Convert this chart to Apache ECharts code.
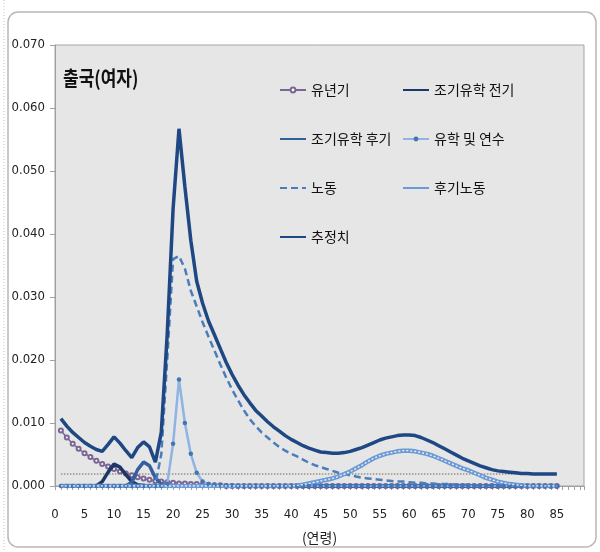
<!DOCTYPE html>
<html><head><meta charset="utf-8">
<script src="https://cdn.jsdelivr.net/npm/echarts@6/dist/echarts.min.js"></script>
<style>html,body{margin:0;padding:0;background:#fff}#c{width:600px;height:552px}</style>
</head><body><div id="c"></div>
<script>
const ages = [1,2,3,4,5,6,7,8,9,10,11,12,13,14,15,16,17,18,19,20,21,22,23,24,25,26,27,28,29,30,31,32,33,34,35,36,37,38,39,40,41,42,43,44,45,46,47,48,49,50,51,52,53,54,55,56,57,58,59,60,61,62,63,64,65,66,67,68,69,70,71,72,73,74,75,76,77,78,79,80,81,82,83,84,85];
const xTickLabels = [0,5,10,15,20,25,30,35,40,45,50,55,60,65,70,75,80,85];
const yTickLabels = ['0.000','0.010','0.020','0.030','0.040','0.050','0.060','0.070'];

const childhood = [0.0088,0.0077,0.0067,0.0059,0.0052,0.0046,0.0040,0.0035,0.0031,0.0027,0.0023,0.0020,0.0017,0.0014,0.0012,0.0010,0.0008,0.0007,0.0006,0.0005,0.0004,0.0004,0.0003,0.0003,0.0002,0.0002,0.0001,0.0001,0,0,0,0,0,0,0,0,0,0,0,0,0,0,0,0,0,0,0,0,0,0,0,0,0,0,0,0,0,0,0,0,0,0,0,0,0,0,0,0,0,0,0,0,0,0,0,0,0,0,0,0,0,0,0,0,0];
const earlyStudy1 = [0,0,0,0,0,0,0,0.0007,0.0022,0.0035,0.0030,0.0018,0.0007,0.0002,0.0001,0,0,0,0,0,0,0,0,0,0,0,0,0,0,0,0,0,0,0,0,0,0,0,0,0,0,0,0,0,0,0,0,0,0,0,0,0,0,0,0,0,0,0,0,0,0,0,0,0,0,0,0,0,0,0,0,0,0,0,0,0,0,0,0,0,0,0,0,0,0];
const earlyStudy2 = [0,0,0,0,0,0,0,0,0,0,0,0,0.0006,0.0026,0.0038,0.0032,0.0013,0.0003,0.0001,0,0,0,0,0,0,0,0,0,0,0,0,0,0,0,0,0,0,0,0,0,0,0,0,0,0,0,0,0,0,0,0,0,0,0,0,0,0,0,0,0,0,0,0,0,0,0,0,0,0,0,0,0,0,0,0,0,0,0,0,0,0,0,0,0,0];
const studyTraining = [0,0,0,0,0,0,0,0,0,0,0,0,0,0,0,0,0,0,0.0003,0.0067,0.0169,0.0100,0.0051,0.0021,0.0007,0.0003,0.0002,0.0001,0.0001,0.0001,0,0,0,0,0,0,0,0,0,0,0,0,0,0,0,0,0,0,0,0,0,0,0,0,0,0,0,0,0,0,0,0,0,0,0,0,0,0,0,0,0,0,0,0,0,0,0,0,0,0,0,0,0,0,0];
const labor = [0,0,0,0,0,0,0,0,0,0,0,0,0,0,0,0,0.0003,0.0050,0.0200,0.0360,0.0365,0.0345,0.0310,0.0285,0.0260,0.0237,0.0215,0.0193,0.0172,0.0153,0.0136,0.0120,0.0106,0.0095,0.0085,0.0077,0.0069,0.0062,0.0056,0.0051,0.0047,0.0042,0.0037,0.0033,0.0030,0.0027,0.0024,0.0021,0.0019,0.0017,0.0015,0.0013,0.0012,0.0011,0.0010,0.0009,0.0008,0.0007,0.0007,0.0006,0.0005,0.0005,0.0004,0.0004,0.0003,0.0003,0.0003,0.0002,0.0002,0.0002,0.0001,0.0001,0.0001,0.0001,0.0001,0,0,0,0,0,0,0,0,0,0];
const lateLabor = [0,0,0,0,0,0,0,0,0,0,0,0,0,0,0,0,0,0,0,0,0,0,0,0,0,0,0,0,0,0,0,0,0,0,0,0,0,0,0,0,0.0001,0.0002,0.0004,0.0006,0.0008,0.0010,0.0012,0.0015,0.0019,0.0023,0.0028,0.0033,0.0039,0.0044,0.0048,0.0051,0.0053,0.0055,0.0056,0.0056,0.0055,0.0053,0.0051,0.0048,0.0044,0.0040,0.0036,0.0032,0.0028,0.0025,0.0021,0.0017,0.0013,0.0010,0.0007,0.0005,0.0003,0.0002,0.0001,0,0,0,0,0,0];
const estimate = [0.0107,0.0095,0.0085,0.0077,0.0069,0.0063,0.0058,0.0055,0.0066,0.0078,0.0068,0.0056,0.0045,0.0061,0.0070,0.0062,0.0038,0.0085,0.0240,0.0440,0.0567,0.0475,0.0390,0.0325,0.0290,0.0262,0.0240,0.0218,0.0196,0.0177,0.0160,0.0145,0.0132,0.0120,0.0111,0.0102,0.0094,0.0087,0.0080,0.0074,0.0069,0.0064,0.0060,0.0057,0.0054,0.0053,0.0052,0.0052,0.0053,0.0055,0.0058,0.0061,0.0065,0.0069,0.0073,0.0076,0.0078,0.0080,0.0081,0.0081,0.0080,0.0077,0.0073,0.0069,0.0064,0.0059,0.0054,0.0049,0.0044,0.0040,0.0036,0.0032,0.0029,0.0026,0.0024,0.0023,0.0022,0.0021,0.0020,0.0020,0.0019,0.0019,0.0019,0.0019,0.0019];
const baseline = [0.0019,0.0019,0.0019,0.0019,0.0019,0.0019,0.0019,0.0019,0.0019,0.0019,0.0019,0.0019,0.0019,0.0019,0.0019,0.0019,0.0019,0.0019,0.0019,0.0019,0.0019,0.0019,0.0019,0.0019,0.0019,0.0019,0.0019,0.0019,0.0019,0.0019,0.0019,0.0019,0.0019,0.0019,0.0019,0.0019,0.0019,0.0019,0.0019,0.0019,0.0019,0.0019,0.0019,0.0019,0.0019,0.0019,0.0019,0.0019,0.0019,0.0019,0.0019,0.0019,0.0019,0.0019,0.0019,0.0019,0.0019,0.0019,0.0019,0.0019,0.0019,0.0019,0.0019,0.0019,0.0019,0.0019,0.0019,0.0019,0.0019,0.0019,0.0019,0.0019,0.0019,0.0019,0.0019,0.0019,0.0019,0.0019,0.0019,0.0019,0.0019,0.0019,0.0019,0.0019,0.0019];

const names = ['유년기','조기유학 전기','조기유학 후기','유학 및 연수','노동','후기노동','추정치'];
const pts = arr => ages.map((a,i)=>[a, arr[i]]);

const NUMFONT = "'Liberation Sans Narrow','DejaVu Sans Condensed','Liberation Sans',sans-serif";
const KFONT = "'Noto Sans CJK KR',sans-serif";
const noSym = {color:'rgba(0,0,0,0)', borderColor:'rgba(0,0,0,0)', borderWidth:0};

const chart = echarts.init(document.getElementById('c'), null, {renderer:'canvas'});
const legendCommon = {
  orient:'vertical', itemWidth:26, itemHeight:6, itemGap:35,
  textStyle:{fontFamily:KFONT, fontSize:14, color:'#111', lineHeight:14}
};
chart.setOption({
  animation:false,
  backgroundColor:'#fff',
  grid:{left:55, right:16, top:45, bottom:66, show:true, backgroundColor:'#e6e6e6', borderColor:'#a5a5a5', borderWidth:1},
  legend:[
    Object.assign({left:274, top:78, data:[
      {name:names[0]}, {name:names[2], itemStyle:noSym}, {name:names[4], itemStyle:noSym}, {name:names[6], itemStyle:noSym}]}, legendCommon),
    Object.assign({left:397, top:78, data:[
      {name:names[1], itemStyle:noSym}, {name:names[3]}, {name:names[5], itemStyle:noSym}]}, legendCommon)
  ],
  xAxis:{type:'value', min:0, max:89.6, interval:5,
    axisLine:{show:true, lineStyle:{color:'#a0a0a0'}},
    axisTick:{show:true, length:4, lineStyle:{color:'#a0a0a0'}},
    minorTick:{show:true, splitNumber:5, length:4, lineStyle:{color:'#a0a0a0'}},
    splitLine:{show:false},
    axisLabel:{showMaxLabel:false, margin:22, fontFamily:NUMFONT, fontSize:13, color:'#222',
      formatter:v=> xTickLabels.indexOf(v)>=0 ? String(v) : ''},
    name:'(연령)', nameLocation:'middle', nameGap:45,
    nameTextStyle:{fontFamily:KFONT, fontSize:14, color:'#222'}
  },
  yAxis:{type:'value', min:0, max:0.07, interval:0.01,
    axisLine:{show:true, lineStyle:{color:'#a0a0a0'}},
    axisTick:{show:true, length:5, lineStyle:{color:'#a0a0a0'}},
    splitLine:{show:false},
    axisLabel:{margin:10, fontFamily:NUMFONT, fontSize:13, color:'#222',
      formatter:v=> yTickLabels[Math.round(v/0.01)]}
  },
  graphic:[
    {type:'rect', shape:{x:8, y:12, width:588, height:535, r:10}, style:{fill:'none', stroke:'#b8b8b8', lineWidth:1.5}, z:-1},
    {type:'line', shape:{x1:4, y1:0, x2:4, y2:552}, style:{stroke:'#c0c0c0', lineDash:[1,2], lineWidth:1}},
    {type:'text', x:63, y:68, scaleX:0.85, style:{text:'출국(여자)', font:"bold 20px 'Noto Sans CJK KR'", fill:'#111'}, z:10}
  ],
  series:[
    {name:'baseline', type:'line', data:pts(baseline), symbol:'none', silent:true,
      lineStyle:{color:'#9a9488', width:1.5, type:[1.5,1.5]}, z:1},
    {name:names[0], type:'line', data:pts(childhood), symbol:'emptyCircle', symbolSize:4, showAllSymbol:true,
      lineStyle:{color:'#7a6595', width:1.5}, itemStyle:{color:'#7a6595', borderWidth:1}, z:2},
    {name:names[1], type:'line', data:pts(earlyStudy1), symbol:'none',
      lineStyle:{color:'#1c3866', width:3.5}, itemStyle:{color:'#1c3866'}, z:3},
    {name:names[2], type:'line', data:pts(earlyStudy2), symbol:'none',
      lineStyle:{color:'#325f9e', width:3.5}, itemStyle:{color:'#325f9e'}, z:3},
    {name:names[3], type:'line', data:pts(studyTraining), symbol:'circle', symbolSize:4.5, showAllSymbol:true,
      lineStyle:{color:'#8db4e2', width:2.5}, itemStyle:{color:'#4574b4'}, z:4},
    {name:names[4], type:'line', data:pts(labor), symbol:'none',
      lineStyle:{color:'#4a7ebb', width:2.5, type:[7,4]}, itemStyle:{color:'#4a7ebb'}, z:4},
    {name:names[5], type:'line', data:pts(lateLabor), symbol:'none',
      lineStyle:{color:'#6d9ad4', width:4.5}, itemStyle:{color:'#6d9ad4'}, z:4},
    {name:'lateLaborInner', type:'line', data:pts(lateLabor), symbol:'none', silent:true,
      lineStyle:{color:'#eef4fc', width:1.3, type:[2,2]}, z:5},
    {name:names[6], type:'line', data:pts(estimate), symbol:'none',
      lineStyle:{color:'#1f4784', width:3.5}, itemStyle:{color:'#1f4784'}, z:6}
  ]
});
</script></body></html>
